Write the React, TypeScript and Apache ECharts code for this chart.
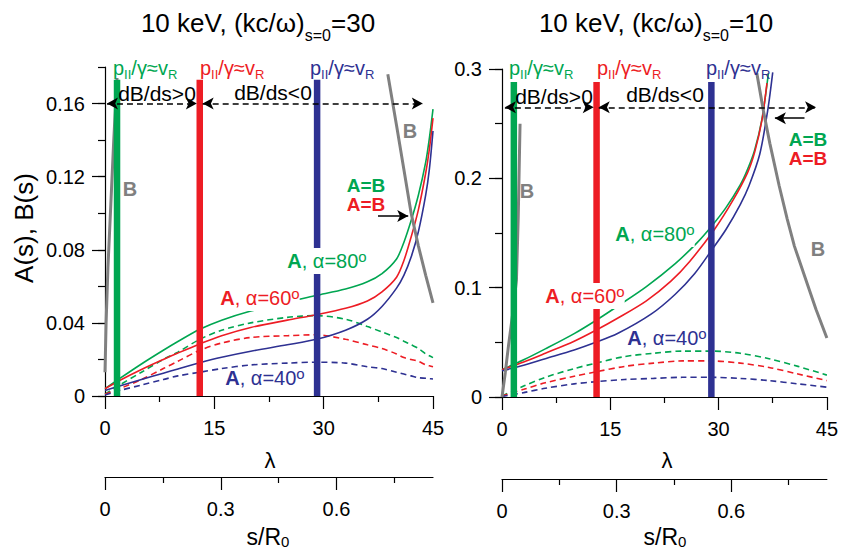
import React, { useEffect, useRef } from "react";
import * as echarts from "echarts";

const FONT = "'Liberation Sans', Arial, Helvetica, sans-serif";
const GREEN = "#00a651";
const RED = "#ed1c24";
const BLUE = "#2e3192";
const GRAY = "#808080";

// ---------- Left panel: (kc/ω)s=0 = 30 ----------
const lamL = [0, 2, 5, 8, 10, 13, 16, 20, 25, 29, 33, 36, 38, 40, 41, 42, 43, 44, 44.5, 45];
const a80L = [0.004, 0.0095, 0.0175, 0.025, 0.0298, 0.0365, 0.0415, 0.0465, 0.0515, 0.055, 0.0585, 0.0625, 0.067, 0.075, 0.084, 0.096, 0.11, 0.128, 0.141, 0.157];
const a60L = [0.004, 0.0085, 0.0145, 0.02, 0.0235, 0.0285, 0.033, 0.0375, 0.0415, 0.0445, 0.048, 0.052, 0.057, 0.065, 0.074, 0.087, 0.102, 0.122, 0.135, 0.152];
const a40L = [0.003, 0.0055, 0.009, 0.0125, 0.0148, 0.0182, 0.0212, 0.0245, 0.028, 0.031, 0.036, 0.042, 0.049, 0.059, 0.066, 0.076, 0.09, 0.11, 0.124, 0.145];
const b80L = [0.001, 0.006, 0.013, 0.02, 0.024, 0.031, 0.036, 0.04, 0.043, 0.044, 0.042, 0.038, 0.035, 0.032, 0.03, 0.028, 0.026, 0.023, 0.022, 0.021];
const b60L = [0.001, 0.004, 0.009, 0.015, 0.019, 0.025, 0.029, 0.032, 0.033, 0.0335, 0.031, 0.028, 0.026, 0.023, 0.021, 0.02, 0.019, 0.017, 0.0165, 0.016];
const b40L = [0.0005, 0.003, 0.006, 0.009, 0.011, 0.013, 0.015, 0.017, 0.018, 0.0185, 0.018, 0.016, 0.015, 0.013, 0.012, 0.011, 0.01, 0.0097, 0.0095, 0.0093];
const bNearLamL = [0, 0.15, 0.4, 0.8, 1.2, 1.65];
const bNearL = [0.013, 0.04, 0.07, 0.105, 0.14, 0.174];
const bFarLamL = [38.8, 40, 41, 42, 43, 44, 45];
const bFarL = [0.176, 0.148, 0.124, 0.1, 0.082, 0.066, 0.051];
const resLamL = [1.65, 13.0, 29.1];
const resTopL = 0.173;
const dBLevelL = 0.16;
const dBSpansL = [[0.27, 12.6], [13.4, 43.6]];
const pointerL = [37.45, 41.6, 0.0985];

// ---------- Right panel: (kc/ω)s=0 = 10 ----------
const lam80R = [0, 3, 6, 10, 13, 16, 20, 24, 27, 29, 31, 33, 34, 35, 36, 36.9];
const a80R = [0.025, 0.034, 0.044, 0.058, 0.07, 0.083, 0.101, 0.122, 0.141, 0.156, 0.173, 0.194, 0.208, 0.226, 0.254, 0.296];
const lam60R = [0, 3, 6, 10, 13, 16, 20, 23.4, 26, 29.4, 32, 34, 35, 36, 36.7];
const a60R = [0.025, 0.032, 0.04, 0.051, 0.061, 0.072, 0.088, 0.106, 0.124, 0.153, 0.18, 0.205, 0.224, 0.253, 0.287];
const lam40R = [0, 3, 6, 10, 13, 16, 20.7, 24, 26.7, 29, 31, 33, 34.2, 35.7, 36.8, 37.5];
const a40R = [0.024, 0.029, 0.035, 0.043, 0.05, 0.058, 0.076, 0.094, 0.113, 0.134, 0.153, 0.176, 0.193, 0.222, 0.262, 0.297];
const lamDR = [0, 3, 6, 10, 13, 17, 21, 25, 29, 33, 37, 41, 45];
const b80R = [0.001, 0.01, 0.018, 0.026, 0.031, 0.037, 0.04, 0.042, 0.042, 0.04, 0.035, 0.028, 0.02];
const b60R = [0.001, 0.007, 0.013, 0.019, 0.023, 0.028, 0.031, 0.033, 0.033, 0.031, 0.027, 0.021, 0.015];
const b40R = [0.0005, 0.004, 0.008, 0.012, 0.014, 0.016, 0.017, 0.018, 0.018, 0.017, 0.015, 0.012, 0.009];
const bNearLamR = [0, 0.45, 0.9, 1.5, 2.0, 2.25, 2.5];
const bNearR = [0, 0.022, 0.047, 0.077, 0.107, 0.165, 0.25];
const bFarLamR = [35.3, 36.2, 37.1, 38.4, 39.5, 40.5, 42.1, 43.5, 45];
const bFarR = [0.296, 0.262, 0.232, 0.193, 0.163, 0.138, 0.107, 0.08, 0.054];
const resLamR = [1.64, 13.1, 29.0];
const resTopR = 0.288;
const dBLevelR = 0.265;
const dBSpansR = [[0.4, 12.7], [13.4, 43.5]];
const pointerR = [41.9, 37.8, 0.255];

// ---------- Axis ticks ----------
const lamTicks = { min: 0, max: 45, interval: 15 };
const sMajorTicks = [0, 0.3, 0.6];
const sMinorTicks = [0.15, 0.45, 0.75];
const sMax = 0.85;
const yMajorL = [0, 0.04, 0.08, 0.12, 0.16];
const yMaxL = 0.18;
const yMajorR = [0, 0.1, 0.2, 0.3];
const yMaxR = 0.3;

const pairs = (xs: number[], ys: number[]) => xs.map((x, i) => [x, ys[i]]);

const AX = { color: "#000", width: 1.2 };

function lamAxis(gridIndex: number) {
  return {
    type: "value", gridIndex, ...lamTicks, position: "bottom",
    axisLine: { show: true, onZero: false, lineStyle: AX },
    axisTick: { show: true, length: 13, lineStyle: AX },
    minorTick: { show: true, splitNumber: 2, length: 6, lineStyle: AX },
    axisLabel: { fontSize: 20, color: "#000", fontFamily: FONT, margin: 22 },
    splitLine: { show: false }, minorSplitLine: { show: false },
  };
}
function sAxis(gridIndex: number, offset: number, major: boolean) {
  return {
    type: "value", gridIndex, min: 0, max: sMax, position: "bottom", offset,
    axisLine: { show: major, onZero: false, lineStyle: AX },
    axisTick: { show: true, length: major ? 13 : 6, customValues: major ? sMajorTicks : sMinorTicks, lineStyle: AX },
    axisLabel: major
      ? { show: true, customValues: sMajorTicks, fontSize: 20, color: "#000", fontFamily: FONT, margin: 22, formatter: (v: number) => String(v) }
      : { show: false },
    splitLine: { show: false },
  };
}
function yBase(gridIndex: number, max: number, interval: number) {
  return {
    type: "value", gridIndex, min: 0, max, interval, position: "left",
    axisLine: { show: true, onZero: false, lineStyle: AX },
    axisTick: { show: true, length: 7, lineStyle: AX },
    axisLabel: { show: false },
    splitLine: { show: false },
  };
}
function yLabels(gridIndex: number, max: number, ticks: number[], digits: number) {
  return {
    type: "value", gridIndex, min: 0, max, position: "left",
    axisLine: { show: false },
    axisTick: { show: true, length: 13, customValues: ticks, lineStyle: AX },
    axisLabel: {
      show: true, customValues: ticks, fontSize: 20, color: "#000", fontFamily: FONT, margin: 20,
      formatter: (v: number) => (v === 0 ? "0" : v.toFixed(digits)),
    },
    splitLine: { show: false },
  };
}

function curve(data: number[][], color: string, xi: number, yi: number, dashed = false) {
  return {
    type: "line", xAxisIndex: xi, yAxisIndex: yi, data, symbol: "none", showSymbol: false,
    smooth: 0.3, silent: true, z: 2,
    lineStyle: { color, width: 1.6, type: dashed ? [6, 4] : "solid" },
  };
}
function grayB(data: number[][], xi: number, yi: number) {
  return {
    type: "line", xAxisIndex: xi, yAxisIndex: yi, data, symbol: "none", showSymbol: false,
    smooth: false, silent: true, z: 3, lineStyle: { color: GRAY, width: 3 },
  };
}
function resBar(lam: number, top: number, color: string, xi: number, yi: number, extra: any = {}) {
  return {
    type: "line", xAxisIndex: xi, yAxisIndex: yi, data: [[lam, 0], [lam, top]], symbol: "none",
    silent: true, z: 4, lineStyle: { color, width: 6.5, cap: "butt" }, ...extra,
  };
}
function dBMarks(level: number, spans: number[][]) {
  return {
    silent: true, symbol: ["arrow", "arrow"], symbolSize: [9, 11], label: { show: false },
    lineStyle: { color: "#000", type: [6, 4], width: 1.5 },
    emphasis: { disabled: true },
    data: spans.map((s) => [{ coord: [s[0], level] }, { coord: [s[1], level] }]),
  };
}
function pointerMark(p: number[]) {
  return {
    silent: true, symbol: ["none", "arrow"], symbolSize: [9, 11], label: { show: false },
    lineStyle: { color: "#000", type: "solid", width: 1.5 },
    emphasis: { disabled: true },
    data: [[{ coord: [p[0], p[2]] }, { coord: [p[1], p[2]] }]],
  };
}

// ---------- Text helpers ----------
function tk(fill: string, fontSize: number, lineHeight: number, va: string, bold = false) {
  return { fill, fontSize, lineHeight, verticalAlign: va, fontFamily: FONT, fontWeight: bold ? "bold" : "normal" };
}
function textEl(x: number, y: number, text: string, rich: any, align = "center", extra: any = {}) {
  return {
    type: "text", x, y, z: 100, silent: true, ...extra,
    style: { text, rich, align, verticalAlign: "middle", fontFamily: FONT, ...(extra.style || {}) },
  };
}
function plain(x: number, y: number, text: string, fill: string, fontSize: number, bold = false, lh = fontSize + 4) {
  return textEl(x, y, `{m|${text}}`, { m: tk(fill, fontSize, lh, "middle", bold) });
}
function pLabel(x: number, y: number, color: string) {
  return textEl(x, y, "{m|p}{s|II}{m|/γ≈v}{s|R}", {
    m: tk(color, 20, 26, "middle"), s: tk(color, 13, 13, "bottom"),
  }, "left");
}
function alphaLabel(x: number, y: number, color: string, deg: string, bg: boolean) {
  return textEl(x, y, `{b|A}{n|, α=${deg}}{u|o}`, {
    b: tk(color, 20, 24, "middle", true), n: tk(color, 20, 24, "middle"), u: tk(color, 15, 20, "top"),
  }, "center", bg ? { style: { backgroundColor: "#fff", padding: [1, 0, 1, 0] } } : {});
}
function title(x: number, y: number, k: string) {
  return textEl(x, y, `{m|10 keV, (kc/ω)}{s|s=0}{m|=${k}}`, {
    m: tk("#000", 26, 40, "middle"), s: tk("#000", 16, 16, "bottom"),
  });
}
function sTitle(x: number, y: number) {
  return textEl(x, y, "{m|s/R}{s|0}", { m: tk("#000", 23, 24, "middle"), s: tk("#000", 15, 12, "bottom") });
}

function buildOption() {
  const series: any[] = [];
  // left panel: xAxis 0, yAxis 0 ; right panel: xAxis 1, yAxis 2
  series.push(curve(pairs(lamL, b80L), GREEN, 0, 0, true));
  series.push(curve(pairs(lamL, b60L), RED, 0, 0, true));
  series.push(curve(pairs(lamL, b40L), BLUE, 0, 0, true));
  series.push(curve(pairs(lamL, a80L), GREEN, 0, 0));
  series.push(curve(pairs(lamL, a60L), RED, 0, 0));
  series.push(curve(pairs(lamL, a40L), BLUE, 0, 0));
  series.push(grayB(pairs(bNearLamL, bNearL), 0, 0));
  series.push(grayB(pairs(bFarLamL, bFarL), 0, 0));
  series.push(resBar(resLamL[0], resTopL, GREEN, 0, 0, { markLine: dBMarks(dBLevelL, dBSpansL) }));
  series.push(resBar(resLamL[1], resTopL, RED, 0, 0, { markLine: pointerMark(pointerL) }));
  series.push(resBar(resLamL[2], resTopL, BLUE, 0, 0));

  series.push(curve(pairs(lamDR, b80R), GREEN, 1, 2, true));
  series.push(curve(pairs(lamDR, b60R), RED, 1, 2, true));
  series.push(curve(pairs(lamDR, b40R), BLUE, 1, 2, true));
  series.push(curve(pairs(lam80R, a80R), GREEN, 1, 2));
  series.push(curve(pairs(lam60R, a60R), RED, 1, 2));
  series.push(curve(pairs(lam40R, a40R), BLUE, 1, 2));
  series.push(grayB(pairs(bNearLamR, bNearR), 1, 2));
  series.push(grayB(pairs(bFarLamR, bFarR), 1, 2));
  series.push(resBar(resLamR[0], resTopR, GREEN, 1, 2, { markLine: dBMarks(dBLevelR, dBSpansR) }));
  series.push(resBar(resLamR[1], resTopR, RED, 1, 2, { markLine: pointerMark(pointerR) }));
  series.push(resBar(resLamR[2], resTopR, BLUE, 1, 2));

  const graphic: any[] = [
    title(258, 23, "30"),
    title(656, 23, "10"),
    textEl(24, 228, "{m|A(s), B(s)}", { m: tk("#000", 26, 30, "middle") }, "center", { rotation: Math.PI / 2 }),
    pLabel(113, 68, GREEN), pLabel(200, 68, RED), pLabel(310, 68, BLUE),
    pLabel(509, 68, GREEN), pLabel(597, 68, RED), pLabel(706, 68, BLUE),
    plain(157, 93, "dB/ds>0", "#000", 21), plain(273, 92, "dB/ds<0", "#000", 21),
    plain(554, 96, "dB/ds>0", "#000", 21), plain(665, 94, "dB/ds<0", "#000", 21),
    plain(130, 189, "B", GRAY, 20, true), plain(410, 131, "B", GRAY, 20, true),
    plain(527, 191, "B", GRAY, 20, true), plain(818, 249, "B", GRAY, 20, true),
    plain(366, 185, "A=B", GREEN, 19, true, 18), plain(366, 204, "A=B", RED, 19, true, 18),
    plain(808, 139, "A=B", GREEN, 19, true, 18), plain(808, 158, "A=B", RED, 19, true, 18),
    alphaLabel(327, 261, GREEN, "80", true), alphaLabel(260, 298, RED, "60", true), alphaLabel(265, 378, BLUE, "40", false),
    alphaLabel(655, 234, GREEN, "80", true), alphaLabel(585, 296, RED, "60", true), alphaLabel(667, 338, BLUE, "40", false),
    plain(270, 460, "λ", "#000", 22), plain(667, 460, "λ", "#000", 22),
    sTitle(268, 537), sTitle(665, 537),
  ];

  return {
    animation: false,
    backgroundColor: "#fff",
    textStyle: { fontFamily: FONT },
    grid: [
      { left: 105, top: 67, width: 328, height: 329 },
      { left: 502, top: 69, width: 329, height: 328 },
    ],
    xAxis: [
      lamAxis(0), lamAxis(1),
      sAxis(0, 81, true), sAxis(0, 81, false),
      sAxis(1, 82, true), sAxis(1, 82, false),
    ],
    yAxis: [
      yBase(0, yMaxL, 0.02), yLabels(0, yMaxL, yMajorL, 2),
      yBase(1, yMaxR, 0.05), yLabels(1, yMaxR, yMajorR, 1),
    ],
    series,
    graphic,
  };
}

export default function App() {
  const ref = useRef<HTMLDivElement>(null);
  useEffect(() => {
    const chart = echarts.init(ref.current as HTMLDivElement, undefined, { renderer: "svg" });
    chart.setOption(buildOption() as any);
    return () => chart.dispose();
  }, []);
  return (
    <div
      ref={ref}
      style={{ position: "fixed", left: 0, top: 0, width: 841, height: 552, background: "#fff" }}
    />
  );
}
